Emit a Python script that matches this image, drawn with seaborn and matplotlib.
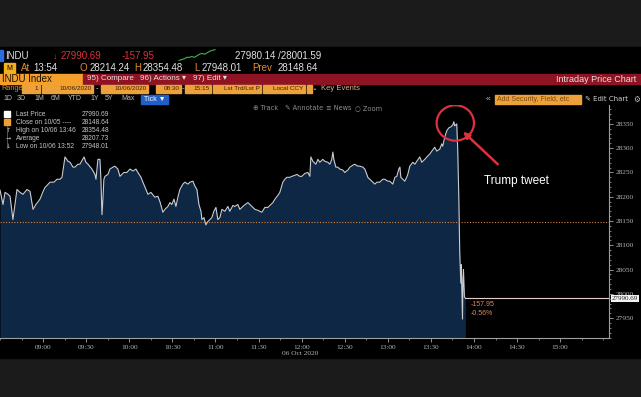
import numpy as np
import pandas as pd
import matplotlib
matplotlib.use('Agg')
import matplotlib.pyplot as plt
import matplotlib.transforms as mtransforms
from matplotlib.patches import Rectangle, Ellipse
from matplotlib.ticker import FuncFormatter, MultipleLocator
import seaborn as sns

# precio intradia del indice
horas = ['08:30:00', '08:32:05', '08:33:30', '08:35:35', '08:37:00', '08:39:00', '08:40:25', '08:41:50',
         '08:43:55', '08:46:00', '08:48:50', '08:50:55', '08:53:00', '08:55:00', '08:57:50', '09:00:00',
         '09:01:20', '09:04:50', '09:07:35', '09:09:40', '09:11:45', '09:13:10', '09:15:15', '09:17:20',
         '09:18:45', '09:20:50', '09:22:10', '09:24:15', '09:25:40', '09:28:30', '09:29:50', '09:31:15',
         '09:34:00', '09:36:05', '09:36:50', '09:38:10', '09:39:35', '09:40:15', '09:41:00', '09:41:40',
         '09:42:20', '09:43:05', '09:45:10', '09:46:30', '09:48:40', '09:50:00', '09:52:05', '09:53:30',
         '09:56:15', '09:58:20', '10:00:30', '10:02:35', '10:04:40', '10:06:00', '10:08:10', '10:09:30',
         '10:11:35', '10:13:00', '10:15:05', '10:17:50', '10:19:55', '10:21:20', '10:23:25', '10:24:50',
         '10:26:55', '10:28:20', '10:29:40', '10:31:05', '10:32:30', '10:33:50', '10:35:15', '10:37:20',
         '10:38:45', '10:40:50', '10:42:15', '10:44:20', '10:45:40', '10:47:05', '10:48:30', '10:49:55',
         '10:50:35', '10:52:00', '10:53:20', '10:54:45', '10:56:10', '10:57:30', '10:58:55', '11:00:20',
         '11:01:40', '11:03:05', '11:04:30', '11:06:35', '11:08:40', '11:10:00', '11:12:10', '11:13:30',
         '11:15:35', '11:17:00', '11:19:50', '11:22:35', '11:24:40', '11:27:30', '11:29:35', '11:32:20',
         '11:34:25', '11:36:30', '11:37:55', '11:40:00', '11:41:25', '11:43:30', '11:44:50', '11:46:55',
         '11:48:20', '11:49:40', '11:51:50', '11:53:10', '11:55:15', '11:56:40', '11:58:45', '12:00:10',
         '12:02:15', '12:04:20', '12:05:45', '12:06:25', '12:07:50', '12:09:55', '12:11:20', '12:12:40',
         '12:14:45', '12:16:10', '12:18:15', '12:19:40', '12:21:00', '12:21:45', '12:22:25', '12:23:50',
         '12:25:10', '12:26:35', '12:28:40', '12:30:05', '12:32:10', '12:33:35', '12:35:40', '12:37:00',
         '12:39:10', '12:40:30', '12:42:35', '12:44:00', '12:45:25', '12:46:05', '12:47:30', '12:48:55',
         '12:51:00', '12:52:25', '12:54:25', '12:56:30', '12:57:55', '13:00:00', '13:01:25', '13:03:30',
         '13:04:55', '13:06:15', '13:07:40', '13:08:25', '13:09:05', '13:10:25', '13:11:50', '13:13:10',
         '13:13:55', '13:15:20', '13:17:25', '13:18:50', '13:20:10', '13:22:15', '13:23:40', '13:25:45',
         '13:27:50', '13:29:15', '13:30:40', '13:32:40', '13:34:05', '13:36:10', '13:37:35', '13:38:15',
         '13:39:40', '13:41:05', '13:42:30', '13:43:55', '13:45:15', '13:46:00', '13:46:35', '13:48:00',
         '13:48:40', '13:49:25', '13:50:05', '13:50:50', '13:51:10', '13:52:00', '13:52:20', '13:52:40',
         '13:53:20', '13:54:00']
precios = [28214, 28184, 28209, 28205, 28201, 28153, 28184, 28215,
           28209, 28205, 28215, 28211, 28174, 28184, 28195, 28211,
           28219, 28230, 28230, 28236, 28236, 28240, 28282, 28273,
           28271, 28261, 28261, 28267, 28267, 28282, 28271, 28267,
           28257, 28246, 28236, 28277, 28277, 28236, 28163, 28195,
           28236, 28242, 28246, 28257, 28261, 28263, 28257, 28242,
           28250, 28250, 28257, 28253, 28257, 28250, 28240, 28230,
           28215, 28205, 28209, 28199, 28201, 28190, 28168, 28174,
           28180, 28188, 28184, 28195, 28180, 28199, 28215, 28226,
           28230, 28226, 28230, 28232, 28222, 28215, 28184, 28170,
           28153, 28157, 28142, 28149, 28153, 28157, 28170, 28178,
           28153, 28157, 28174, 28170, 28180, 28170, 28182, 28180,
           28184, 28174, 28182, 28188, 28182, 28174, 28172, 28168,
           28178, 28178, 28182, 28188, 28195, 28203, 28209, 28230,
           28236, 28240, 28240, 28242, 28244, 28246, 28242, 28242,
           28248, 28250, 28242, 28282, 28273, 28267, 28277, 28271,
           28277, 28273, 28271, 28267, 28277, 28292, 28277, 28261,
           28261, 28257, 28255, 28250, 28255, 28261, 28265, 28267,
           28263, 28263, 28261, 28257, 28246, 28240, 28236, 28232,
           28226, 28230, 28230, 28236, 28236, 28232, 28232, 28226,
           28240, 28242, 28257, 28261, 28240, 28236, 28232, 28240,
           28246, 28263, 28271, 28267, 28273, 28282, 28271, 28277,
           28284, 28288, 28294, 28302, 28294, 28298, 28309, 28304,
           28323, 28336, 28342, 28344, 28348, 28354.48, 28346, 28350,
           28298, 28201, 28085, 28022, 28060, 27948.01, 28029, 28050,
           27994, 27990.69]

# minilinea verde de la cabecera
mini_linea = [3, 3.5, 4, 5, 5, 5.5, 5, 6, 7, 7.5, 7, 8, 9, 9.5, 10]

cierre_previo = 28148.64
ultimo = 27990.69
ticks_y = [27950, 28000, 28050, 28100, 28150, 28200, 28250, 28300, 28350]

leyenda_txt = ['Last Price', 'Close on 10/05 ----', 'High on 10/06 13:46', 'Average', 'Low on 10/06 13:52']
leyenda_val = ['27990.69', '28148.64', '28354.48', '28207.73', '27948.01']

W, H = 641, 397

sns.set_theme(style='dark')
plt.rcParams['font.family'] = ['Liberation Sans', 'DejaVu Sans']

df = pd.DataFrame({'hora': horas, 'precio': precios})
df['minutos'] = pd.to_timedelta(df['hora']).dt.total_seconds() / 60

fig = plt.figure(figsize=(W / 100, H / 100), dpi=100)
fig.patch.set_facecolor('#1b1b1b')

# capa de fondo y capa de textos en pixeles
bg = fig.add_axes([0, 0, 1, 1], zorder=0)
bg.set_xlim(0, W)
bg.set_ylim(H, 0)
bg.axis('off')
bg.add_patch(Rectangle((0, 47), W, 311, color='black'))

ax = fig.add_axes([0, 1 - 338 / H, 609 / W, (338 - 105) / H], zorder=1)
ax.set_facecolor('black')

ov = fig.add_axes([0, 0, 1, 1], zorder=2)
ov.set_xlim(0, W)
ov.set_ylim(H, 0)
ov.axis('off')
ov.patch.set_alpha(0)

y_min, y_max = 27909, 28389
ax.set_ylim(y_min, y_max)
ax.set_xlim(510, 934)

ax.fill_between(df['minutos'], df['precio'], y_min, color='#0d2744', lw=0, zorder=1)
sns.lineplot(data=df, x='minutos', y='precio', ax=ax, color='#c9ccd2', linewidth=0.8,
             estimator=None, sort=False, zorder=3)
ax.axhline(cierre_previo, color='#d9823d', lw=0.8, ls=(0, (1, 1.5)), zorder=4)
ax.plot([df['minutos'].iloc[-1], 934], [ultimo, ultimo], color='#e6cfc8', lw=0.8, zorder=4)

# ejes
for s in ['left', 'top']:
    ax.spines[s].set_visible(False)
for s in ['right', 'bottom']:
    ax.spines[s].set_color('#a0a0a0')
    ax.spines[s].set_linewidth(0.8)
ax.yaxis.tick_right()
ax.set_yticks(ticks_y)
ax.yaxis.set_minor_locator(MultipleLocator(10))
ax.xaxis.set_minor_locator(MultipleLocator(15))
ax.set_xticks(np.arange(540, 901, 30))
ax.xaxis.set_major_formatter(FuncFormatter(lambda m, p: f'{int(m // 60):02d}:{int(m % 60):02d}'))
ax.tick_params(axis='both', which='major', colors='#a8a8a8', labelsize=5.3, length=3, width=0.6,
               direction='out', pad=2)
ax.tick_params(axis='both', which='minor', colors='#a8a8a8', length=1.5, width=0.5, direction='out')
ax.tick_params(axis='x', which='both', bottom=True)
ax.tick_params(axis='y', which='both', right=True)
for lab in ax.get_xticklabels() + ax.get_yticklabels():
    lab.set_family('Liberation Serif')
    lab.set_color('#b4b4b4')
ax.set_xlabel('')
ax.set_ylabel('')
ax.grid(False)
ax.text(0.492, -0.055, '06 Oct 2020', transform=ax.transAxes, ha='center', va='top',
        fontsize=5.3, color='#b4b4b4', family='Liberation Serif')

# etiqueta del ultimo precio
trans = mtransforms.blended_transform_factory(ax.transAxes, ax.transData)
ax.text(1.005, ultimo, '27990.69', transform=trans, ha='left', va='center', fontsize=5,
        color='#202020', family='Liberation Serif', clip_on=False,
        bbox=dict(boxstyle='square,pad=0.15', fc='#f2f2f2', ec='none'))
ax.annotate('-157.95\n-0.56%', xy=(df['minutos'].iloc[-1], ultimo), xytext=(5, -3),
            textcoords='offset pixels', ha='left', va='top', fontsize=5, color='#d98a66',
            linespacing=1.3)

# anotacion roja
ax.add_patch(Ellipse((827, 28352), 26, 73, fill=False, ec='#e0303e', lw=1.6, zorder=6))
ax.annotate('', xy=(831, 28338), xytext=(858, 28263),
            arrowprops=dict(arrowstyle='-|>', color='#e0303e', lw=1.8, mutation_scale=9), zorder=6)
ax.text(847, 28232, 'Trump tweet', color='white', fontsize=8.5, va='center', ha='left')


def txt(x, y, s, color='#e2e2e2', size=7, ha='left', **kw):
    ov.text(x, y, s, color=color, fontsize=size, ha=ha, va='center', **kw)


# fila 1
ov.add_patch(Rectangle((0, 50), 3, 11, color='#2a6de0'))
txt(5, 56, 'INDU', size=7)
txt(53, 56, '\u2193', color='#e0303a', size=6.5)
txt(61, 56, '27990.69', color='#e0303a', size=7)
txt(122, 56, '-157.95', color='#e0303a', size=7)
txt(235, 56, '27980.14 /28001.59', size=7)
sp = fig.add_axes([177 / W, 1 - 61 / H, 40 / W, 12 / H], zorder=3)
sns.lineplot(x=np.arange(len(mini_linea)), y=mini_linea, ax=sp, color='#3cb44a', lw=0.8)
sp.axis('off')
sp.patch.set_alpha(0)

# fila 2
ov.add_patch(Rectangle((4, 63), 11, 10, color='#f0b020'))
txt(9.5, 68, 'M', color='black', size=5, ha='center')
txt(21, 68, 'At', color='#e08c30')
txt(33, 68, '13:54')
txt(80, 68, 'O', color='#e08c30')
txt(90, 68, '28214.24')
txt(134, 68, 'H', color='#e08c30')
txt(143, 68, '28354.48')
txt(194, 68, 'L', color='#e08c30')
txt(202, 68, '27948.01')
txt(252, 68, 'Prev', color='#e08c30')
txt(278, 68, '28148.64')

# fila 3
ov.add_patch(Rectangle((0, 74), 83, 10, color='#f5a02a'))
ov.add_patch(Rectangle((83, 74), W - 83, 10, color='#8e1424'))
txt(2, 79, 'INDU Index', color='#1a1000', size=7)
txt(87, 79, '95) Compare', size=5.8)
txt(140, 79, '96) Actions \u25be', size=5.8)
txt(193, 79, '97) Edit \u25be', size=5.8)
txt(636, 79, 'Intraday Price Chart', size=6.5, ha='right')

# fila 4
txt(1, 89, 'Range', color='#e08c30', size=5.3)
cajas = [(22, 40, '1'), (42, 93, '10/06/2020'), (101, 148, '10/06/2020'), (156, 181, '08:30'),
         (185, 211, '15:15'), (213, 261, 'Lst Trd/Lst P'), (263, 305, 'Local CCY'), (307, 312, '')]
for x0, x1, s in cajas:
    ov.add_patch(Rectangle((x0, 85), x1 - x0, 8, color='#eda13a'))
    txt(x1 - 1.5, 89, s, color='#3a2200', size=4.6, ha='right')
txt(96, 89, '-', size=5.5)
txt(182, 89, '-', size=5.5)
txt(314, 89, '\u25aa', color='#c0c0c0', size=4)
txt(321, 89, 'Key Events', color='#d9b08c', size=5.5)

# fila 5
for x, s in [(3, '1D'), (17, '3D'), (34, '1M'), (51, '6M'), (68, 'YTD'), (90, '1Y'), (105, '5Y'),
             (121, 'Max')]:
    txt(x, 99, s, color='#bdbdbd', size=5)
ov.add_patch(Rectangle((141, 95), 27, 9, color='#1e5fc8'))
txt(144, 99.5, 'Tick \u25bc', color='white', size=5)
txt(486, 99, '\u00ab', color='#c0c0c0', size=6)
ov.add_patch(Rectangle((495, 95), 86, 9, color='#eda13a'))
txt(497, 99.5, 'Add Security, Field, etc', color='#7a4a10', size=5)
txt(585, 99, '\u270e Edit Chart', color='#d0d0d0', size=5, family=['DejaVu Sans'])
txt(633, 99, '\u2699', color='#c0c0c0', size=5.5, family=['DejaVu Sans'])

# barra de herramientas
for x, s in [(253, '\u2295 Track'), (285, '\u270e Annotate'), (326, '\u2261 News'), (355, '\u25cb Zoom')]:
    txt(x, 108, s, color='#8c8c8c', size=4.8, family=['DejaVu Sans'])

# leyenda
ov.add_patch(Rectangle((4, 111), 6, 6, color='white'))
ov.add_patch(Rectangle((4, 119), 6, 6, color='#f0a030'))
ov.plot([7, 7], [126, 148], color='#5a6a50', lw=0.6)
simbolos = ['', '', '\u2191', '\u2192', '\u2193']
ys = [114, 122, 130, 138, 146]
for y, sim, t, v in zip(ys, simbolos, leyenda_txt, leyenda_val):
    if sim:
        txt(8, y, sim, color='#bdbdbd', size=4.5, ha='center', family=['DejaVu Sans'])
    txt(16, y, t, color='#c4c4c4', size=4.8)
    txt(82, y, v, color='#c4c4c4', size=4.8)

fig.savefig('out.png', dpi=100, facecolor=fig.get_facecolor())
